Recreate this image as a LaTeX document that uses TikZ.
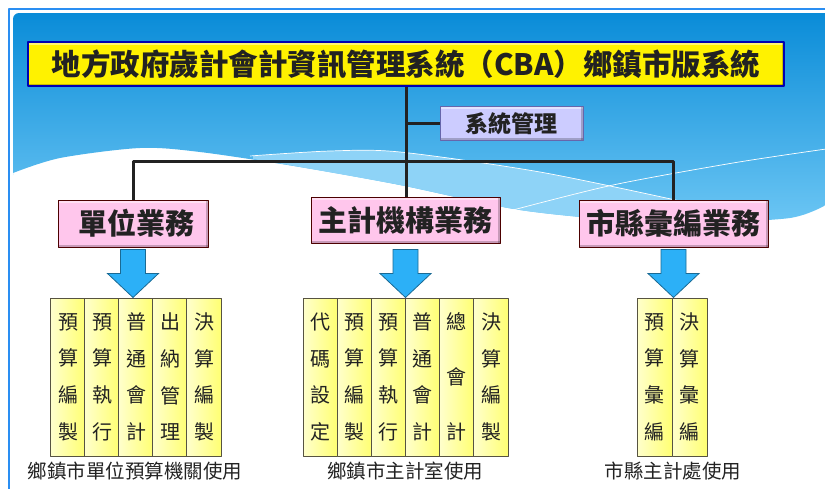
\documentclass[tikz,border=0pt]{standalone}
\usepackage{fontspec}
\newfontfamily\cjk{Noto Sans CJK TC}
\definecolor{skytop}{HTML}{0A8CD8}
\definecolor{skybot}{HTML}{6CC6F4}
\definecolor{band}{HTML}{8ED3F7}
\definecolor{frameblue}{HTML}{2A8EF2}
\definecolor{ink}{HTML}{222222}
\definecolor{pinkbox}{HTML}{FFC6EC}
\definecolor{arrowblue}{HTML}{2CB0F7}
\tikzset{pics/dnarrow/.style={code={
  \draw[fill=arrowblue,draw=arrowblue!60!black,line width=.8pt,line join=miter]
  (-12.5,0)--(12.5,0)--(12.5,24)--(25.5,24)--(0,48)--(-25.5,24)--(-12.5,24)--cycle;}}}
\begin{document}
\begin{tikzpicture}[x=1pt,y=-1pt,line join=round,text=ink,
  bevel/.style={path picture={
    \fill[white,opacity=.45] (path picture bounding box.north west) rectangle ([yshift=-2.5pt]path picture bounding box.north east);
    \fill[black,opacity=.22] (path picture bounding box.south west) rectangle ([yshift=2.5pt]path picture bounding box.south east);
    \fill[black,opacity=.22] (path picture bounding box.north east) rectangle ([xshift=-2.5pt]path picture bounding box.south east);}},
  titlebox/.style={draw=blue!70!black,line width=1.2pt,fill=yellow,bevel,inner sep=0pt,
    minimum width=756pt,minimum height=44pt,font=\cjk\bfseries\fontsize{29.5}{32}\selectfont},
  task/.style={draw=black!70!red,line width=1pt,fill=pinkbox,bevel,inner sep=0pt,
    minimum height=47pt,font=\cjk\bfseries\fontsize{29}{31}\selectfont},
  sysbox/.style={draw=black!55!blue!60,line width=1pt,fill=blue!20!white,bevel,inner sep=0pt,
    minimum width=143pt,minimum height=34pt,font=\cjk\bfseries\fontsize{23}{25}\selectfont},
  col/.style={draw=black!60!yellow!60!black,line width=.9pt,left color=yellow!20,right color=yellow!55,
    inner sep=0pt,minimum width=34.2pt,minimum height=158pt,align=center,
    font=\cjk\fontsize{20}{36.7}\selectfont},
  usage/.style={font=\cjk\fontsize{19.5}{21}\selectfont},
  link/.style={ink,line width=3pt}]
\useasboundingbox (0,0) rectangle (825,488);
% slide background
\shade[top color=skytop,bottom color=skybot] (13,175) [rounded corners=6pt]--(13,13) [sharp corners]--(826,13)--(826,205)
  -- plot[smooth] coordinates {(826,205) (790,218) (700,223) (640,222) (520,210) (400,185) (300,167) (200,152) (140,148) (60,158) (13,173)}--cycle;
\fill[band] plot[smooth] coordinates {(253,156) (330,151) (400,152) (540,172) (680,201)}
  -- plot[smooth] coordinates {(680,222) (640,222) (520,210) (400,185) (300,167) (253,159)}--cycle;
\draw[white,line width=.7pt] plot[smooth] coordinates {(250,156) (330,151) (400,152) (540,172) (680,201)};
\draw[white,line width=.7pt] plot[smooth] coordinates {(513,210) (613,185) (733,163) (826,149)};
\draw[frameblue,line width=2pt] (9,490)--(9,9)--(826,9);
% boxes
\node[titlebox] (title) at (406,64) {地方政府歲計會計資訊管理系統（CBA）鄉鎮市版系統};
\node[sysbox] (sys) at (511.5,123.5) {系統管理};
\node[task,minimum width=150pt] (unit) at (133,223.5) {\hspace{6pt}單位業務};
\node[task,minimum width=189pt,minimum height=46pt] (chief) at (405.5,220) {主計機構業務};
\node[task,minimum width=189pt] (city) at (673.5,223.5) {市縣彙編業務};
\draw[link] (title.south)--(title.south|-chief.north);
\draw[link] (title.south|-sys.west)--(sys.west);
\draw[link] (unit.north)--++(0,-38)-|(city.north);
\pic at ([yshift=-2pt]unit.south) {dnarrow};
\pic at ([yshift=-6pt]chief.south) {dnarrow};
\pic at ([yshift=-2pt]city.south) {dnarrow};
% columns
\foreach \t [count=\i] in {{預\\算\\編\\製},{預\\算\\執\\行},{普\\通\\會\\計},{出\\納\\管\\理},{決\\算\\編\\製}}
  \node[col] (a\i) at (34+34*\i,377) {\t};
\foreach \t [count=\i] in {{代\\碼\\設\\定},{預\\算\\編\\製},{預\\算\\執\\行},{普\\通\\會\\計},{總\\[18.3pt]會\\[18.3pt]計},{決\\算\\編\\製}}
  \node[col] (b\i) at (286+34.17*\i,377) {\t};
\foreach \t [count=\i] in {{預\\算\\彙\\編},{決\\算\\彙\\編}}
  \node[col,minimum width=35pt] (c\i) at (619.5+35*\i,377) {\t};
\node[usage] (capa) at (135,471) {鄉鎮市單位預算機關使用};
\node[usage] (capb) at (405,471) {鄉鎮市主計室使用};
\node[usage] (capc) at (673,471) {市縣主計處使用};
\end{tikzpicture}
\end{document}
